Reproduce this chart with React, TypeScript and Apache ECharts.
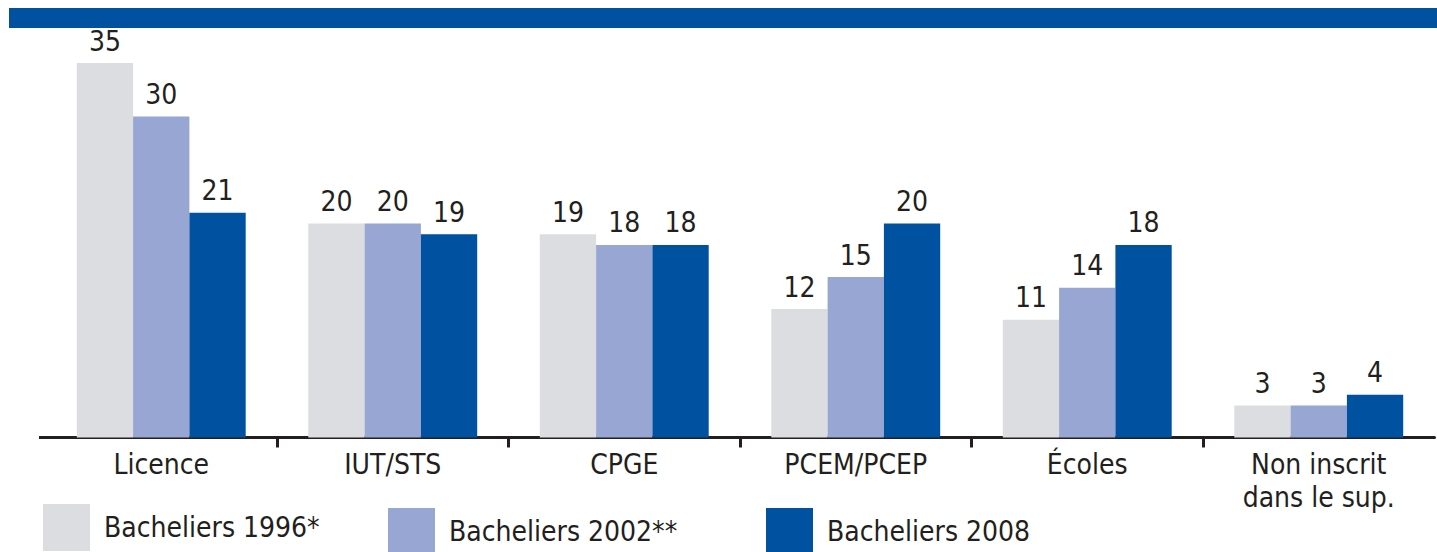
import React, { useEffect, useRef } from "react";
import * as echarts from "echarts";

const categories = ["Licence", "IUT/STS", "CPGE", "PCEM/PCEP", "Écoles", "Non inscrit\ndans le sup."];
const seriesNames = ["Bacheliers 1996*", "Bacheliers 2002**", "Bacheliers 2008"];
const values1996 = [35, 20, 19, 12, 11, 3];
const values2002 = [30, 20, 18, 15, 14, 3];
const values2008 = [21, 19, 18, 20, 18, 4];
const colors = ["#dcdde0", "#97a6d2", "#0052a0"];
const boundaryTicks = [1, 2, 3, 4, 5];

const FONT = "'DejaVu Sans Condensed', 'Liberation Sans Narrow', sans-serif";
const INK = "#231f20";

export default function App() {
  const ref = useRef<HTMLDivElement>(null);
  useEffect(() => {
    if (!ref.current) return;
    const chart = echarts.init(ref.current, undefined, { renderer: "svg" });
    const allValues = [values1996, values2002, values2008];
    const gridBox = { left: 45.5, right: 2.5, top: 63, bottom: 114.5 };
    const legendTops = [504, 508, 508];
    const legendLefts = [43, 388, 766];
    chart.setOption({
      animation: false,
      textStyle: { fontFamily: FONT },
      graphic: [
        { type: "rect", shape: { x: 9, y: 8, width: 1428, height: 20 }, style: { fill: "#0052a0" } },
        { type: "line", shape: { x1: 39, y1: 437.5, x2: 47, y2: 437.5 }, style: { stroke: INK, lineWidth: 3 } },
      ],
      grid: [{ ...gridBox }, { ...gridBox }],
      xAxis: [
        {
          type: "category",
          data: categories,
          gridIndex: 0,
          axisLine: { lineStyle: { color: INK, width: 3 } },
          axisTick: { show: false },
          axisLabel: {
            color: INK,
            fontFamily: FONT,
            fontSize: 28,
            lineHeight: 33,
            margin: 10,
            interval: 0,
          },
        },
        {
          type: "value",
          gridIndex: 1,
          min: 0,
          max: 6,
          interval: 1,
          axisLine: { show: false },
          splitLine: { show: false },
          axisLabel: { show: false },
          axisTick: {
            show: true,
            length: 10,
            customValues: boundaryTicks,
            lineStyle: { color: INK, width: 3 },
          },
        },
      ],
      yAxis: [
        { type: "value", gridIndex: 0, min: 0, max: 35, show: false },
        { type: "value", gridIndex: 1, min: 0, max: 1, show: false },
      ],
      legend: seriesNames.map((name, i) => ({
        data: [name],
        left: legendLefts[i],
        top: legendTops[i],
        padding: 0,
        icon: "rect",
        itemWidth: 47,
        itemHeight: 47,
        selectedMode: false,
        textStyle: {
          color: INK,
          fontFamily: FONT,
          fontSize: 28,
          padding: [6, 0, 0, 9],
        },
      })),
      series: seriesNames.map((name, i) => ({
        name,
        type: "bar",
        xAxisIndex: 0,
        yAxisIndex: 0,
        data: allValues[i],
        barWidth: 56.3,
        barGap: "0%",
        itemStyle: { color: colors[i] },
        label: {
          show: true,
          position: "top",
          distance: 8,
          color: INK,
          fontFamily: FONT,
          fontSize: 28,
        },
      })),
    });
    return () => chart.dispose();
  }, []);
  return (
    <div
      ref={ref}
      style={{ position: "fixed", left: 0, top: 0, width: 1437, height: 552, background: "#fff" }}
    />
  );
}
